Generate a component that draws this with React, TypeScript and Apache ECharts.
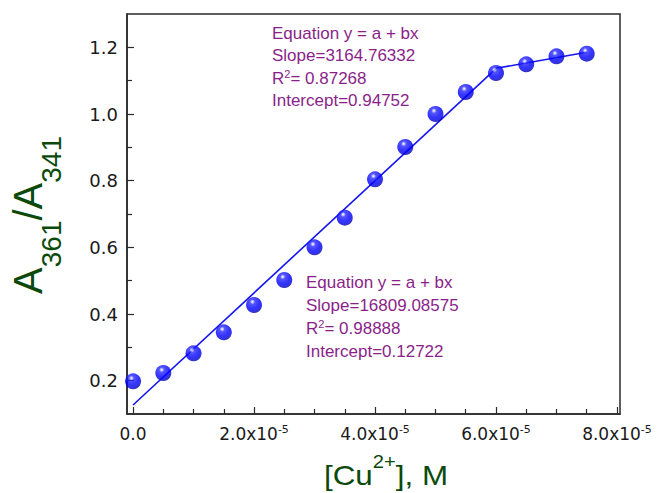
import React, { useEffect, useRef } from 'react';
import * as echarts from 'echarts';

// Data
const concentrations = [0, 0.5e-5, 1.0e-5, 1.5e-5, 2.0e-5, 2.5e-5, 3.0e-5, 3.5e-5, 4.0e-5, 4.5e-5, 5.0e-5, 5.5e-5, 6.0e-5, 6.5e-5, 7.0e-5, 7.5e-5];
const ratios = [0.198, 0.223, 0.282, 0.345, 0.427, 0.502, 0.600, 0.689, 0.804, 0.901, 1.000, 1.066, 1.123, 1.149, 1.173, 1.181];

const fitLowX = [0, 6.0e-5];
const fitLowY = [0.127, 1.136];
const fitHighX = [6.0e-5, 7.5e-5];
const fitHighY = [1.137, 1.185];

const xMajorTicks = [0, 2.0e-5, 4.0e-5, 6.0e-5, 8.0e-5];
const xMinorTicks = [0.5e-5, 1.0e-5, 1.5e-5, 2.5e-5, 3.0e-5, 3.5e-5, 4.5e-5, 5.0e-5, 5.5e-5, 6.5e-5, 7.0e-5, 7.5e-5];
const yMajorTicks = [0.2, 0.4, 0.6, 0.8, 1.0, 1.2];
const yMinorTicks = [0.3, 0.5, 0.7, 0.9, 1.1];

const fitHighLines = ['Equation y = a + bx', 'Slope=3164.76332', '0.87268', 'Intercept=0.94752'];
const fitLowLines = ['Equation y = a + bx', 'Slope=16809.08575', '0.98888', 'Intercept=0.12722'];

const AXIS = '#2a2a2a';
const LABEL = '#1a1a1a';
const GREEN = '#0b4a0b';
const PURPLE = '#8a1f8a';
const BLUE = '#1515f0';
const SANS = 'Liberation Sans, Arial, sans-serif';
const TICKFONT = 'DejaVu Sans';

const X_MIN = -1e-6;
const X_MAX = 8.05e-5;
const Y_MIN = 0.1;
const Y_MAX = 1.3;

function annotation(lines: string[], left: number, mids: number[]) {
  return lines.map((line, i) => {
    const isR2 = i === 2;
    return {
      type: 'text',
      x: left,
      y: mids[i],
      z: 100,
      style: {
        text: isR2 ? `{t|R}{s|2}{t|= ${line}}` : line,
        fill: PURPLE,
        fontSize: 17,
        fontFamily: SANS,
        textAlign: 'left',
        align: 'left',
        textVerticalAlign: 'middle',
        verticalAlign: 'middle',
        rich: {
          t: { fill: PURPLE, fontSize: 17, fontFamily: SANS, lineHeight: 20, verticalAlign: 'middle' },
          s: { fill: PURPLE, fontSize: 11, fontFamily: SANS, lineHeight: 11, verticalAlign: 'top' },
        },
      },
    };
  });
}

export default function App() {
  const ref = useRef<HTMLDivElement>(null);

  useEffect(() => {
    if (!ref.current) return;
    const chart = echarts.init(ref.current, undefined, { renderer: 'svg' });

    const points = concentrations.map((c, i) => [c, ratios[i]]);
    const low = fitLowX.map((c, i) => [c, fitLowY[i]]);
    const high = fitHighX.map((c, i) => [c, fitHighY[i]]);

    const tickLine = { color: AXIS, width: 1.2 };

    const option: any = {
      animation: false,
      backgroundColor: '#ffffff',
      grid: {
        left: 127,
        right: 38,
        top: 14,
        bottom: 79,
        show: true,
        borderColor: AXIS,
        borderWidth: 1.5,
        backgroundColor: 'transparent',
        containLabel: false,
        outerBoundsMode: 'none',
      },
      xAxis: [
        {
          type: 'value',
          min: X_MIN,
          max: X_MAX,
          position: 'bottom',
          axisLine: { show: true, onZero: false, lineStyle: { color: AXIS, width: 1.5 } },
          axisTick: { show: true, inside: true, length: 7, customValues: xMajorTicks, lineStyle: tickLine },
          splitLine: { show: false },
          axisLabel: {
            show: true,
            customValues: xMajorTicks,
            margin: 10,
            color: LABEL,
            fontFamily: TICKFONT,
            fontSize: 17,
            formatter: (v: number) => (Math.abs(v) < 1e-12 ? '{n|0.0}' : `{n|${(v * 1e5).toFixed(1)}x10}{s|-5}`),
            rich: {
              n: { color: LABEL, fontFamily: TICKFONT, fontSize: 17, lineHeight: 20, verticalAlign: 'middle' },
              s: { color: LABEL, fontFamily: TICKFONT, fontSize: 11, lineHeight: 11, verticalAlign: 'top' },
            },
          },
        },
        {
          type: 'value',
          min: X_MIN,
          max: X_MAX,
          position: 'bottom',
          axisLine: { show: false, onZero: false },
          axisTick: { show: true, inside: true, length: 5, customValues: xMinorTicks, lineStyle: tickLine },
          splitLine: { show: false },
          axisLabel: { show: false },
        },
      ],
      yAxis: [
        {
          type: 'value',
          min: Y_MIN,
          max: Y_MAX,
          position: 'left',
          axisLine: { show: true, onZero: false, lineStyle: { color: AXIS, width: 1.5 } },
          axisTick: { show: true, inside: true, length: 7, customValues: yMajorTicks, lineStyle: tickLine },
          splitLine: { show: false },
          axisLabel: {
            show: true,
            customValues: yMajorTicks,
            margin: 9,
            color: LABEL,
            fontFamily: TICKFONT,
            fontSize: 18,
            formatter: (v: number) => v.toFixed(1),
          },
        },
        {
          type: 'value',
          min: Y_MIN,
          max: Y_MAX,
          position: 'left',
          axisLine: { show: false, onZero: false },
          axisTick: { show: true, inside: true, length: 5, customValues: yMinorTicks, lineStyle: tickLine },
          splitLine: { show: false },
          axisLabel: { show: false },
        },
      ],
      series: [
        {
          type: 'line',
          data: low,
          symbol: 'none',
          lineStyle: { color: BLUE, width: 1.6 },
          z: 2,
        },
        {
          type: 'line',
          data: high,
          symbol: 'none',
          lineStyle: { color: BLUE, width: 1.6 },
          z: 2,
        },
        {
          type: 'scatter',
          data: points,
          symbol: 'circle',
          symbolSize: 16,
          z: 5,
          itemStyle: {
            color: {
              type: 'radial',
              x: 0.4,
              y: 0.3,
              r: 0.72,
              colorStops: [
                { offset: 0, color: '#ffffff' },
                { offset: 0.08, color: '#c0c0ff' },
                { offset: 0.22, color: '#2a2aff' },
                { offset: 0.6, color: '#0000ff' },
                { offset: 0.85, color: '#0000dc' },
                { offset: 1, color: '#00009a' },
              ],
            },
          },
        },
      ],
      graphic: [
        {
          type: 'text',
          x: 28,
          y: 215,
          rotation: Math.PI / 2,
          style: {
            text: '{a|A}{b|361}{a|/A}{b|341}',
            fill: GREEN,
            fontFamily: SANS,
            fontSize: 40,
            textAlign: 'center',
            align: 'center',
            textVerticalAlign: 'middle',
            verticalAlign: 'middle',
            rich: {
              a: { fill: GREEN, fontFamily: SANS, fontSize: 40, lineHeight: 74, verticalAlign: 'middle' },
              b: { fill: GREEN, fontFamily: SANS, fontSize: 28, lineHeight: 28, verticalAlign: 'bottom' },
            },
          },
        },
        {
          type: 'text',
          x: 386,
          y: 475,
          scaleX: 1.12,
          style: {
            text: '{a|[Cu}{b|2+}{a|], M}',
            fill: GREEN,
            fontFamily: SANS,
            fontSize: 28,
            textAlign: 'center',
            align: 'center',
            textVerticalAlign: 'middle',
            verticalAlign: 'middle',
            rich: {
              a: { fill: GREEN, fontFamily: SANS, fontSize: 28, lineHeight: 44, verticalAlign: 'middle' },
              b: { fill: GREEN, fontFamily: SANS, fontSize: 18, lineHeight: 18, verticalAlign: 'top' },
            },
          },
        },
        ...annotation(fitHighLines, 272, [33, 55, 78, 100]),
        ...annotation(fitLowLines, 306, [282, 305, 328, 351]),
      ],
    };

    chart.setOption(option);
    return () => chart.dispose();
  }, []);

  return (
    <div
      ref={ref}
      style={{ position: 'fixed', left: 0, top: 0, width: 658, height: 493, background: '#fff' }}
    />
  );
}
